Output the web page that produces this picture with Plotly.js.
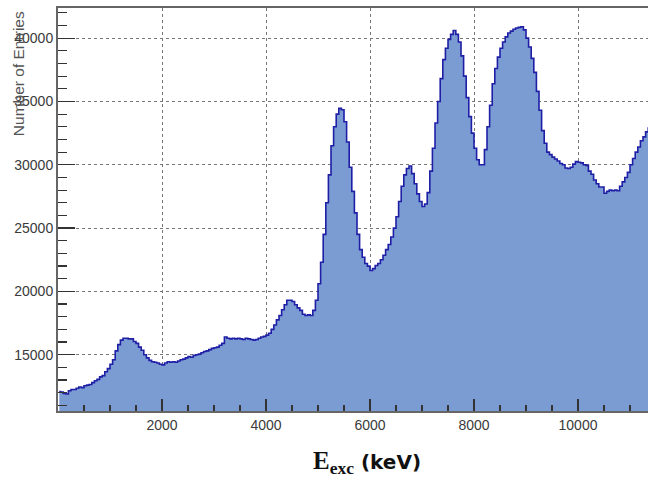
<!DOCTYPE html>
<html><head><meta charset="utf-8">
<script src="https://cdn.plot.ly/plotly-3.0.1.min.js"></script>
<style>html,body{margin:0;padding:0;background:#fff;}#chart{width:648px;height:477px;}</style>
</head><body><div id="chart"></div>
<script>
const binStart = 0;
const binWidth = 50;
const counts = [
12100,12050,11950,11900,12150,12250,12250,12350,12450,12400,
12550,12600,12650,12800,12950,13050,13250,13350,13650,13900,
14250,14600,15300,15800,16150,16300,16300,16250,16250,16050,
15900,15600,15350,15000,14750,14550,14450,14400,14350,14250,
14200,14350,14450,14400,14450,14400,14500,14600,14650,14750,
14850,14800,14950,15000,15050,15150,15250,15300,15400,15500,
15550,15600,15750,15900,16400,16300,16250,16300,16250,16300,
16250,16200,16300,16250,16200,16150,16200,16300,16400,16450,
16550,16700,17000,17350,17750,18100,18550,18950,19300,19300,
19200,18950,18700,18500,18200,18100,18150,18100,18500,19300,
20600,22300,24500,27000,29200,31500,33000,34000,34450,34350,
33400,31800,29800,27900,26200,24500,23300,22700,22200,22000,
21650,21800,22050,22200,22500,22850,23300,23700,24300,25000,
25900,27100,28300,29200,29700,29900,29300,28500,27700,27100,
26700,26900,27800,29500,31300,33300,35000,36800,38300,39200,
39900,40300,40600,40300,39700,38600,37000,35300,33800,32500,
31300,30400,30000,30000,31200,33000,34700,36400,37600,38500,
39200,39700,40100,40400,40550,40700,40800,40850,40900,40650,
40000,39300,38400,37300,35800,34300,32700,31700,31000,30800,
30600,30450,30300,30100,30000,29750,29700,29800,30050,30250,
30200,30150,30000,29950,29500,29250,28800,28500,28250,28250,
27750,27900,28000,27950,28000,27950,28300,28650,29000,29400,
30000,30500,31000,31400,31900,32200,32600,32900
];
const xTickVals = [2000,4000,6000,8000,10000];
const xTickText = ['2000','4000','6000','8000','10000'];
const yTickVals = [15000,20000,25000,30000,35000,40000];
const yTickText = ['15000','20000','25000','30000','35000','40000'];

const centers = counts.map((_, i) => binStart + binWidth * (i + 0.5));

const trace = {
  type: 'scatter', mode: 'lines',
  x: centers, y: counts,
  line: {shape: 'hvh', color: '#1f1fa6', width: 1.6},
  fill: 'tozeroy', fillcolor: '#7b9bd3',
  hoverinfo: 'skip'
};

const tickFont = {family: 'Liberation Sans, Arial, sans-serif', size: 14, color: '#3a3a3a'};

const layout = {
  width: 648, height: 477,
  margin: {l: 58, r: 0, t: 8, b: 66},
  paper_bgcolor: '#fff', plot_bgcolor: '#fff',
  showlegend: false,
  xaxis: {
    range: [0, 11346],
    tickvals: xTickVals, ticktext: xTickText,
    ticks: 'inside', ticklen: 12, tickwidth: 1.2, tickcolor: '#333',
    minor: {dtick: 500, tick0: 0, ticks: 'inside', ticklen: 6, tickcolor: '#333', showgrid: false},
    showgrid: true, gridcolor: '#777', griddash: 'dot', gridwidth: 1,
    showline: true, linecolor: '#666', linewidth: 2, mirror: true,
    tickfont: tickFont, zeroline: false
  },
  yaxis: {
    range: [10556, 42380],
    tickvals: yTickVals, ticktext: yTickText,
    ticks: 'inside', ticklen: 17, tickwidth: 1.2, tickcolor: '#333',
    minor: {dtick: 1000, tick0: 0, ticks: 'inside', ticklen: 9, tickcolor: '#333', showgrid: false},
    showgrid: true, gridcolor: '#777', griddash: 'dot', gridwidth: 1,
    showline: true, linecolor: '#666', linewidth: 2, mirror: false,
    tickfont: tickFont, zeroline: false
  },
  annotations: [
    {
      xref: 'paper', yref: 'paper', x: -0.068, y: 0.838,
      xanchor: 'center', yanchor: 'middle', textangle: -90, showarrow: false,
      text: 'Number of Entries',
      font: {family: 'Liberation Sans, Arial, sans-serif', size: 15.5, color: '#555'}
    },
    {
      xref: 'paper', yref: 'paper', x: 0.523, y: -0.128,
      xanchor: 'center', yanchor: 'middle', showarrow: false,
      text: '<b>E<sub>exc</sub><span style="font-family:DejaVu Sans, sans-serif;font-size:20px"> (keV)</span></b>',
      font: {family: 'Liberation Serif, serif', size: 25, color: '#111'}
    }
  ]
};

Plotly.newPlot('chart', [trace], layout, {displayModeBar: false, staticPlot: true});
</script>
</body></html>
